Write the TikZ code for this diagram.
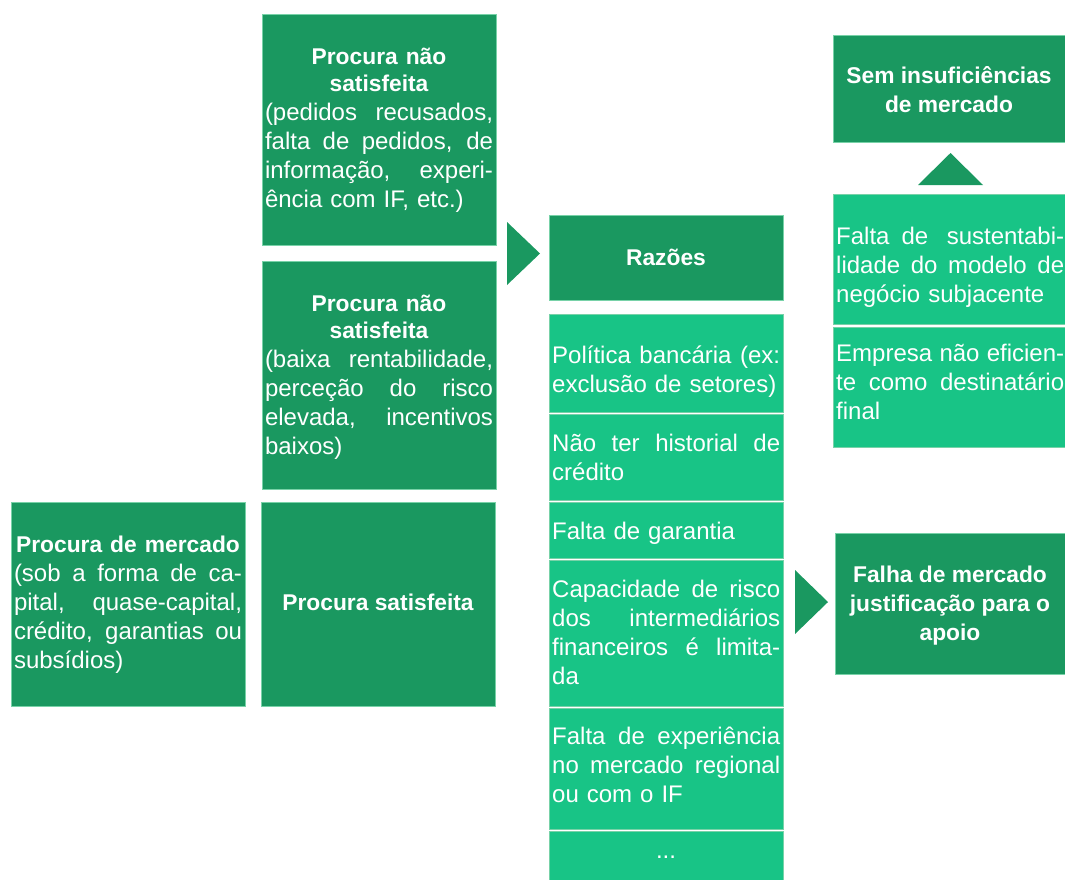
\documentclass[tikz,border=0pt]{standalone}
\usepackage{fontspec}
\setmainfont{Liberation Sans}
\definecolor{dk}{RGB}{26,152,96}
\definecolor{lt}{RGB}{24,196,134}
\definecolor{bd}{RGB}{120,210,168}
\newcommand{\J}[1]{\par\hbox to\hsize{\spaceskip=0pt\xspaceskip=0pt\relax #1}}
\newcommand{\Lh}[1]{\par\hbox{#1}}
\newcommand{\Ti}[1]{{\centering\bfseries\fontsize{22.8}{27.5}\selectfont #1\par}}
\tikzset{
  dkbox/.style={fill=dk, draw=bd, line width=0.8pt, inner sep=0pt, outer sep=0pt},
  ltbox/.style={fill=lt, draw=bd, line width=0.8pt, inner sep=0pt, outer sep=0pt},
  body/.style={text width=228pt, text=white, inner sep=0pt,
    font=\fontsize{24}{29}\selectfont},
  ttl/.style={text=white, align=center, inner sep=0pt,
    font=\bfseries\fontsize{22.8}{29}\selectfont},
  arr/.style={fill=dk},
}
\begin{document}
\begin{tikzpicture}[x=1pt,y=-1pt]
\useasboundingbox (0,0) rectangle (1065,879);
% left column boxes
\node[dkbox, minimum width=234pt, minimum height=231pt] (a) at (379,129.5) {};
\node[body] (at) at ([yshift=-1pt]a.center) {\Ti{Procura não\\satisfeita}
\J{(pedidos recusados,}\J{falta de pedidos, de}\J{informação, experi-}\Lh{ência com IF, etc.)}};
\node[dkbox, minimum width=234pt, minimum height=228pt] (b) at (379,375) {};
\node[body] (bt) at ([yshift=-2.5pt]b.center) {\Ti{Procura não\\satisfeita}
\J{(baixa rentabilidade,}\J{perceção do risco}\J{elevada, incentivos}\Lh{baixos)}};
\node[dkbox, minimum width=234pt, minimum height=204pt] (c) at (128,604) {};
\node[body] (ct) at ([yshift=-1pt]c.center) {\Ti{Procura de mercado}
\J{(sob a forma de ca-}\J{pital, quase-capital,}\J{crédito, garantias ou}\Lh{subsídios)}};
\node[dkbox, minimum width=234pt, minimum height=204pt] (d) at (378,604) {};
\node[ttl] (dt) at ([yshift=2pt]d.center) {Procura satisfeita};
% arrow to reasons
\fill[arr] (507,222) -- (540,253.5) -- (507,285) -- cycle;
% reasons column
\node[dkbox, minimum width=234pt, minimum height=85pt] (r) at (666,257.5) {};
\node[ttl] (rt) at (r.center) {Razões};
\node[ltbox, minimum width=234pt, minimum height=98pt] (c1) at (666,363) {};
\node[body, anchor=west] (c1t) at ([shift={(3,2.5)}]c1.west) {\J{Política bancária (ex:}\Lh{exclusão de setores)}};
\node[ltbox, minimum width=234pt, minimum height=86pt] (c2) at (666,457) {};
\node[body, anchor=west] (c2t) at ([shift={(3,-5.5)}]c2.west) {\J{Não ter historial de}\Lh{crédito}};
\node[ltbox, minimum width=234pt, minimum height=56pt] (c3) at (666,530) {};
\node[body, anchor=west] (c3t) at ([shift={(3,-3)}]c3.west) {\Lh{Falta de garantia}};
\node[ltbox, minimum width=234pt, minimum height=146pt] (c4) at (666,633) {};
\node[body, anchor=west] (c4t) at ([shift={(3,-6.5)}]c4.west) {\J{Capacidade de risco}\J{dos intermediários}\J{financeiros é limita-}\Lh{da}};
\node[ltbox, minimum width=234pt, minimum height=121pt] (c5) at (666,768.5) {};
\node[body, anchor=west] (c5t) at ([shift={(3,-9.5)}]c5.west) {\J{Falta de experiência}\J{no mercado regional}\Lh{ou com o IF}};
\node[ltbox, minimum width=234pt, minimum height=50pt] (c6) at (666,856) {};
\node[text=white, inner sep=0pt, font=\fontsize{24}{29}\selectfont] (c6t) at (666,857) {...};
% right column
\node[dkbox, minimum width=232pt, minimum height=107pt] (s) at (949,88.5) {};
\node[ttl] (st) at ([yshift=-1pt]s.center) {Sem insuficiências\\de mercado};
\fill[arr] (918,185) -- (950.5,153) -- (983,185) -- cycle;
\node[ltbox, minimum width=232pt, minimum height=130pt] (r1) at (949,259) {};
\node[body, anchor=west] (r1t) at ([shift={(3,2)}]r1.west) {\J{Falta\hskip 12pt de sustentabi-}\J{lidade do modelo de}\Lh{negócio subjacente}};
\node[ltbox, minimum width=232pt, minimum height=120pt] (r2) at (949,387) {};
\node[body, anchor=west] (r2t) at ([shift={(3,-10.5)}]r2.west) {\J{Empresa não eficien-}\J{te como destinatário}\Lh{final}};
\fill[arr] (795,570) -- (828,602) -- (795,634) -- cycle;
\node[dkbox, minimum width=230pt, minimum height=141pt] (f) at (950,603.5) {};
\node[ttl] (ft) at ([yshift=-2pt]f.center) {Falha de mercado\\justificação para o\\apoio};
\end{tikzpicture}
\end{document}
